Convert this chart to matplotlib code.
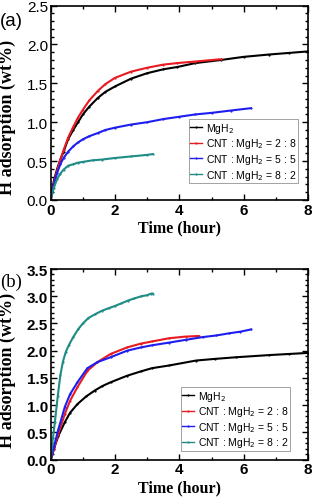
import numpy as np
import matplotlib.pyplot as plt
from matplotlib.ticker import MultipleLocator

# panel (a) data: time (hour), H adsorption (wt%)
a_mgh2_t = [0, 0.05, 0.1, 0.2, 0.3, 0.4, 0.54, 0.7, 0.85, 1, 1.2, 1.46, 1.7, 2, 2.5, 3, 3.5, 3.94, 4.5, 5.3, 6, 6.79, 7.4, 8]
a_mgh2_y = [0, 0.14, 0.25, 0.40, 0.52, 0.62, 0.78, 0.90, 1.00, 1.10, 1.20, 1.31, 1.39, 1.46, 1.56, 1.63, 1.68, 1.71, 1.76, 1.80, 1.84, 1.87, 1.89, 1.91]
a_28_t = [0, 0.05, 0.1, 0.2, 0.3, 0.4, 0.54, 0.7, 0.85, 1, 1.2, 1.46, 1.7, 2, 2.5, 3, 3.5, 3.94, 4.5, 5.3]
a_28_y = [0, 0.11, 0.22, 0.38, 0.52, 0.64, 0.80, 0.94, 1.06, 1.16, 1.28, 1.40, 1.49, 1.57, 1.65, 1.70, 1.74, 1.76, 1.78, 1.81]
a_55_t = [0, 0.05, 0.1, 0.2, 0.3, 0.4, 0.54, 0.7, 0.85, 1, 1.2, 1.46, 1.7, 2, 2.5, 3, 3.5, 4, 4.5, 5, 5.6, 6.22]
a_55_y = [0, 0.10, 0.20, 0.35, 0.46, 0.54, 0.62, 0.69, 0.74, 0.78, 0.82, 0.86, 0.90, 0.93, 0.97, 1.00, 1.04, 1.07, 1.10, 1.12, 1.15, 1.18]
a_82_t = [0, 0.05, 0.1, 0.2, 0.3, 0.4, 0.54, 0.7, 0.85, 1, 1.3, 1.6, 2, 2.5, 3, 3.17]
a_82_y = [0, 0.09, 0.16, 0.27, 0.34, 0.39, 0.44, 0.46, 0.48, 0.49, 0.51, 0.52, 0.54, 0.56, 0.58, 0.59]

# panel (b) data
b_mgh2_t = [0, 0.05, 0.1, 0.24, 0.44, 0.6, 0.83, 1.1, 1.37, 1.6, 1.86, 2.37, 2.8, 3.15, 3.69, 4.52, 5.1, 5.76, 6.79, 7.4, 8]
b_mgh2_y = [0, 0.10, 0.20, 0.44, 0.69, 0.86, 1.02, 1.16, 1.27, 1.35, 1.42, 1.54, 1.62, 1.68, 1.73, 1.82, 1.85, 1.88, 1.92, 1.94, 1.96]
b_28_t = [0, 0.05, 0.1, 0.24, 0.44, 0.6, 0.83, 1.14, 1.45, 1.86, 2.37, 2.8, 3.15, 3.69, 4.2, 4.6]
b_28_y = [0, 0.10, 0.20, 0.48, 0.84, 1.08, 1.33, 1.63, 1.79, 1.94, 2.06, 2.13, 2.17, 2.23, 2.26, 2.27]
b_55_t = [0, 0.05, 0.1, 0.24, 0.44, 0.6, 0.83, 1.14, 1.45, 1.86, 2.37, 2.8, 3.15, 3.69, 4.2, 4.72, 5.15, 5.55, 5.9, 6.22]
b_55_y = [0, 0.12, 0.24, 0.56, 0.97, 1.20, 1.42, 1.68, 1.79, 1.88, 2.00, 2.06, 2.10, 2.15, 2.20, 2.25, 2.28, 2.32, 2.35, 2.39]
b_82_t = [0, 0.05, 0.13, 0.22, 0.3, 0.38, 0.47, 0.57, 0.7, 0.86, 1.0, 1.17, 1.38, 1.58, 1.8, 1.99, 2.2, 2.4, 2.6, 2.82, 3.0, 3.13, 3.17]
b_82_y = [0, 0.30, 0.69, 1.17, 1.55, 1.80, 1.98, 2.11, 2.25, 2.40, 2.50, 2.60, 2.67, 2.73, 2.78, 2.82, 2.87, 2.92, 2.96, 3.00, 3.02, 3.05, 3.05]

labels = ['MgH$_2$', 'CNT : MgH$_2$ = 2 : 8', 'CNT : MgH$_2$ = 5 : 5', 'CNT : MgH$_2$ = 8 : 2']
colors = ['black', '#e81a22', '#1e1ef0', '#1f8c86']

W, H = 316, 502
fig = plt.figure(figsize=(W/100, H/100), dpi=100)
ax_a = fig.add_axes([50.7/W, 1-201/H, 257.3/W, 194.5/H])
ax_b = fig.add_axes([50.7/W, 1-460.7/H, 257.3/W, 190.7/H])

panels = [
    (ax_a, [(a_mgh2_t, a_mgh2_y), (a_28_t, a_28_y), (a_55_t, a_55_y), (a_82_t, a_82_y)],
     2.5, '(a)', 'Liberation Sans', 'normal', (0.961, 0.087), 22, 0.43),
    (ax_b, [(b_mgh2_t, b_mgh2_y), (b_28_t, b_28_y), (b_55_t, b_55_y), (b_82_t, b_82_y)],
     3.5, '(b)', 'Liberation Serif', 'bold', (0.93, 0.046), 282, 0.475),
]

for ax, series, ymax, tag, tagfont, yweight, legpos, tag_y, ylab_y in panels:
    for (t, y), lab, c in zip(series, labels, colors):
        ax.plot(t, y, '-', color=c, lw=1.5, marker='.', markersize=1.2, label=lab)
    ax.set_xlim(0, 8)
    ax.set_ylim(0, ymax)
    ax.xaxis.set_major_locator(MultipleLocator(2))
    ax.xaxis.set_minor_locator(MultipleLocator(1))
    ax.yaxis.set_major_locator(MultipleLocator(0.5))
    ax.yaxis.set_minor_locator(MultipleLocator(0.1))
    ax.tick_params(which='both', direction='in', top=True, right=True, width=1)
    ax.tick_params(which='major', length=4, labelsize=11, pad=2)
    ax.tick_params(which='minor', length=2)
    for lbl in ax.get_xticklabels():
        lbl.set_fontweight('bold')
        lbl.set_family('Liberation Sans')
    for lbl in ax.get_yticklabels():
        lbl.set_fontweight(yweight)
        lbl.set_family('Liberation Sans')
    for s in ax.spines.values():
        s.set_linewidth(1.2)
    ax.set_xlabel('Time (hour)', family='Liberation Serif', fontweight='bold', fontsize=11.5, labelpad=2)
    ax.set_ylabel('H adsorption (wt%)', family='Liberation Serif', fontweight='bold', fontsize=13)
    ax.yaxis.set_label_coords(-0.133, ylab_y)
    leg = ax.legend(loc='lower right', bbox_to_anchor=legpos, borderaxespad=0,
                    frameon=True, fancybox=False, edgecolor='#777777',
                    handlelength=1.1, handletextpad=0.4, borderpad=0.15, labelspacing=0.15,
                    prop={'family': 'Liberation Sans', 'size': 7.5})
    leg.get_frame().set_linewidth(0.6)
    for line in leg.get_lines():
        line.set_linewidth(1.0)
    ax.text(0, 1 - tag_y/H, tag, transform=fig.transFigure, fontsize=13.5,
            family=tagfont, ha='left', va='center')

fig.savefig('out.png', dpi=100)
